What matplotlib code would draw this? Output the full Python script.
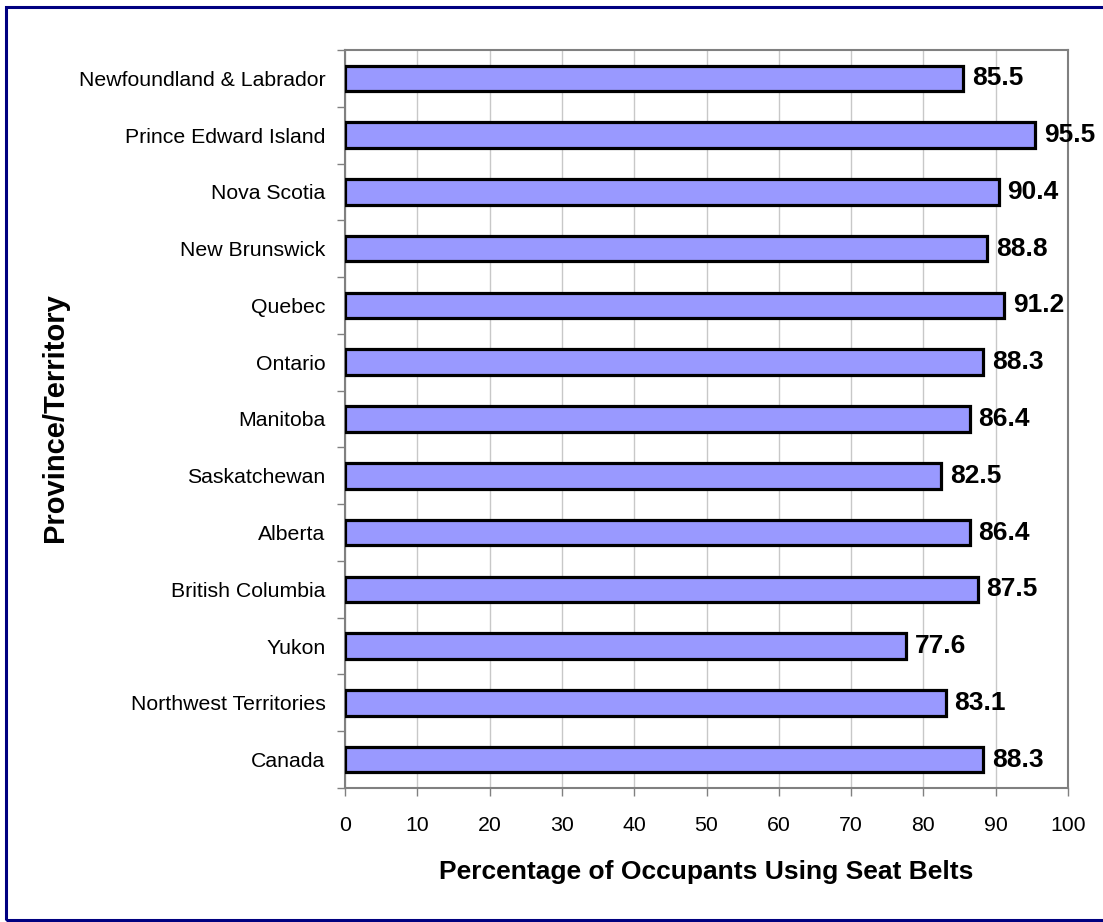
import matplotlib
matplotlib.use('Agg')
from matplotlib import pyplot as plt
from matplotlib.patches import Rectangle
import numpy as np

plt.rcParams['font.family'] = ['Liberation Sans', 'DejaVu Sans']

provinces = ['Newfoundland & Labrador', 'Prince Edward Island', 'Nova Scotia',
             'New Brunswick', 'Quebec', 'Ontario', 'Manitoba', 'Saskatchewan',
             'Alberta', 'British Columbia', 'Yukon', 'Northwest Territories', 'Canada']
belt_use = [85.5, 95.5, 90.4, 88.8, 91.2, 88.3, 86.4, 82.5, 86.4, 87.5, 77.6, 83.1, 88.3]
x_ticks = [0, 10, 20, 30, 40, 50, 60, 70, 80, 90, 100]

W, H = 1103, 922
fig = plt.figure(figsize=(W / 100, H / 100), dpi=100)
ax = fig.add_axes([345 / W, 1 - 788 / H, (1068 - 345) / W, (788 - 50) / H])

n = len(provinces)
pos = np.arange(n)[::-1]
ax.barh(pos, belt_use, height=0.45, color='#9999FF', edgecolor='black',
        linewidth=2.3, zorder=3)

for y, v in zip(pos, belt_use):
    ax.text(v + 1.2, y, f'{v:.1f}', va='center', ha='left', fontsize=19,
            fontweight='bold', zorder=4)

ax.set_xlim(0, 100)
ax.set_ylim(-0.5, n - 0.5)
ax.set_xticks(x_ticks)
ax.set_xticklabels([str(t) for t in x_ticks], fontsize=15.3)
ax.set_yticks(pos)
ax.set_yticklabels(provinces, fontsize=15.3)
ax.tick_params(axis='y', length=0, pad=14)
ax.set_yticks(np.arange(-0.5, n, 1), minor=True)
ax.tick_params(axis='y', which='minor', length=6, color='#808080', width=1)
ax.tick_params(axis='x', length=6, color='#808080', width=1, pad=14)

ax.grid(axis='x', color='#C8C8C8', linewidth=1, zorder=0)
ax.set_axisbelow(True)
for s in ax.spines.values():
    s.set_color('#808080')
    s.set_linewidth(1.5)

ax.set_xlabel('Percentage of Occupants Using Seat Belts', fontsize=19,
              fontweight='bold', labelpad=18)
fig.text(55 / W, 1 - 418 / H, 'Province/Territory', rotation=90, fontsize=21,
         fontweight='bold', ha='center', va='center')

# navy frame around the chart area
fig.patches.append(Rectangle((6 / W, 2 / H), 1.1, 1 - 9.5 / H, transform=fig.transFigure,
                             fill=False, edgecolor='#000080', linewidth=2.2))

fig.savefig('out.png', dpi=100)
